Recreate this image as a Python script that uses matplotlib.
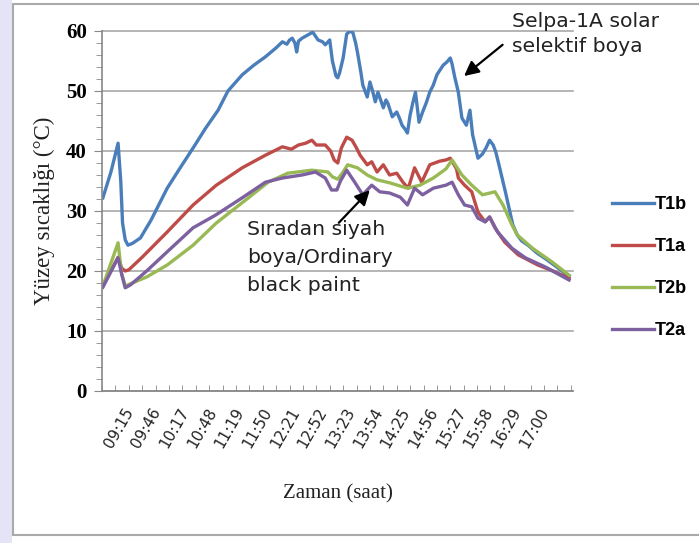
import matplotlib
matplotlib.use("Agg")
import matplotlib.pyplot as plt
from matplotlib.patches import Rectangle
from matplotlib.ticker import MultipleLocator, FixedLocator

# minutes after 08:44 and surface temperature (°C)
t1b_min = [1, 10, 18, 21, 23, 26, 29, 34, 43, 55, 73, 88, 102, 116, 130, 141, 157, 170, 183, 195,
           202, 207, 210, 213, 216, 218, 220, 224, 230, 236, 242, 247, 250, 255, 258, 262, 264, 266,
           270, 274, 278, 281, 284, 286, 290, 292, 297, 300, 303, 306, 309, 312, 315, 318, 320, 325,
           330, 333, 336, 340, 342, 345, 348, 351, 355, 359, 363, 367, 371, 375, 382, 386, 390, 392,
           395, 399, 403, 408, 412, 415, 421, 426, 430, 434, 438, 441, 444, 448, 452, 455, 460, 465,
           470, 477, 487, 497, 508, 516, 523]
t1b_val = [32.2, 36.5, 41.3, 35.0, 28.0, 25.2, 24.3, 24.6, 25.5, 28.5, 33.8, 37.3, 40.5, 43.8, 46.8,
           50.0, 52.7, 54.3, 55.7, 57.2, 58.2, 57.8, 58.5, 58.8, 58.0, 56.5, 58.3, 58.8, 59.3, 59.8,
           58.5, 58.2, 57.7, 58.5, 55.0, 52.5, 52.2, 53.0, 55.5, 59.5, 60.0, 59.7, 58.0, 56.5, 53.0,
           51.0, 49.0, 51.5, 50.0, 48.2, 49.8, 48.5, 47.2, 48.5, 48.0, 45.7, 46.5, 45.5, 44.3, 43.5,
           43.0, 46.0, 48.0, 49.8, 44.8, 46.5, 48.0, 49.8, 51.0, 52.7, 54.3, 54.8, 55.5, 54.5, 52.3,
           49.8, 45.5, 44.3, 46.8, 42.7, 38.8, 39.5, 40.5, 41.8, 41.0, 39.8, 38.0, 35.5, 33.0, 31.0,
           27.7, 26.0, 25.0, 24.3, 23.0, 22.0, 20.8, 19.9, 19.2]

t1a_min = [1, 18, 22, 26, 30, 45, 73, 102, 128, 157, 183, 202, 212, 220, 228, 235, 240, 250, 256,
           260, 264, 268, 274, 280, 285, 289, 297, 302, 308, 315, 322, 330, 337, 343, 350, 358, 367,
           378, 385, 390, 397, 399, 406, 414, 421, 429, 434, 440, 451, 466, 488, 505, 523]
t1a_val = [17.5, 22.3, 20.5, 20.0, 20.2, 22.3, 26.5, 31.0, 34.3, 37.2, 39.3, 40.7, 40.3, 41.0, 41.3,
           41.8, 41.0, 41.0, 40.0, 38.5, 38.0, 40.5, 42.3, 41.8, 40.5, 39.3, 37.7, 38.2, 36.5, 37.7,
           36.0, 36.3, 34.8, 33.8, 37.2, 34.8, 37.7, 38.3, 38.5, 38.8, 37.0, 35.5, 34.3, 33.2, 29.8,
           28.2, 29.0, 27.2, 24.8, 22.7, 21.0, 20.0, 18.8]

t2b_min = [1, 18, 22, 26, 34, 50, 73, 102, 128, 164, 186, 208, 235, 253, 258, 264, 270, 275, 286,
           297, 308, 322, 342, 356, 371, 385, 392, 403, 414, 426, 440, 449, 459, 465, 482, 504, 523]
t2b_val = [17.5, 24.7, 19.5, 17.5, 18.0, 19.0, 21.0, 24.3, 28.0, 32.2, 34.8, 36.3, 36.8, 36.5, 35.7,
           35.3, 36.5, 37.7, 37.2, 36.0, 35.2, 34.7, 33.8, 34.3, 35.5, 37.0, 38.5, 36.0, 34.3, 32.7,
           33.2, 31.0, 27.7, 26.0, 23.8, 21.5, 19.3]

t2a_min = [1, 18, 22, 26, 32, 50, 73, 102, 127, 157, 183, 202, 224, 239, 250, 257, 263, 267, 274,
           283, 292, 302, 311, 322, 334, 342, 350, 359, 371, 385, 392, 399, 406, 414, 421, 429, 434,
           443, 459, 474, 496, 523]
t2a_val = [17.3, 22.2, 19.5, 17.2, 17.7, 20.0, 23.2, 27.2, 29.3, 32.2, 34.8, 35.5, 36.0, 36.5, 35.5,
           33.5, 33.5, 35.0, 36.8, 34.8, 32.7, 34.3, 33.2, 33.0, 32.3, 31.0, 33.8, 32.7, 33.8, 34.3,
           34.8, 32.7, 31.0, 30.7, 28.8, 28.2, 29.0, 26.5, 23.8, 22.2, 20.7, 18.5]

series_names = ["T1b", "T1a", "T2b", "T2a"]
series_colors = ["#4a7ebb", "#be4b48", "#98b954", "#7d60a0"]

tick_labels = ["09:15", "09:46", "10:17", "10:48", "11:19", "11:50", "12:21", "12:52",
               "13:23", "13:54", "14:25", "14:56", "15:27", "15:58", "16:29", "17:00"]
tick_min = [31 * (i + 1) for i in range(len(tick_labels))]

W, H = 699, 543
fig = plt.figure(figsize=(W / 100, H / 100), dpi=100)
fig.patch.set_facecolor("white")

# page background strip and chart border
fig.patches.append(Rectangle((0, 0), 12 / W, 1, transform=fig.transFigure,
                             facecolor="#e4e4f6", edgecolor="none", zorder=-2))
fig.patches.append(Rectangle((13 / W, 8 / H), 1, (535 - 4) / H, transform=fig.transFigure,
                             facecolor="white", edgecolor="#aaaaaa", lw=1.5, zorder=-1))

ax = fig.add_axes([102 / W, (H - 391) / H, (573 - 102) / W, 360 / H])
ax.set_facecolor("none")

xs = [t1b_min, t1a_min, t2b_min, t2a_min]
ys = [t1b_val, t1a_val, t2b_val, t2a_val]
for x, y, name, c in zip(xs, ys, series_names, series_colors):
    ax.plot(x, y, color=c, lw=2.4, label=name, solid_joinstyle="round")

ax.set_xlim(0, 527.4)
ax.set_ylim(0, 60)
ax.set_yticks(range(0, 61, 10))
ax.yaxis.set_minor_locator(MultipleLocator(2))
ax.yaxis.grid(True, color="#a8a8a8", lw=1.2)
for gl in ax.get_ygridlines():
    gl.set_clip_on(False)
ax.set_axisbelow(True)

ax.set_xticks(tick_min)
ax.set_xticklabels(tick_labels, rotation=60, ha="right", va="center",
                   rotation_mode="anchor", fontsize=11, color="#222222")
ax.xaxis.set_minor_locator(FixedLocator(list(range(0, 528, 15))))
ax.tick_params(axis="x", which="major", length=0, pad=13)
ax.tick_params(axis="x", which="minor", direction="in", length=4, color="#888888")
ax.tick_params(axis="y", which="major", direction="out", length=6, color="#888888", pad=5)
ax.tick_params(axis="y", which="minor", direction="out", length=4, color="#888888")
for lab in ax.get_yticklabels():
    lab.set_fontfamily("Liberation Serif")
    lab.set_fontweight("bold")
    lab.set_fontsize(15)

for s in ["top", "right"]:
    ax.spines[s].set_visible(False)
for s in ["left", "bottom"]:
    ax.spines[s].set_color("#888888")
    ax.spines[s].set_linewidth(1.2)

ax.set_ylabel("Yüzey sıcaklığı (°C)", fontfamily="Liberation Serif", fontsize=16.5,
              color="#222222", labelpad=8)
ax.set_xlabel("Zaman (saat)", fontfamily="Liberation Serif", fontsize=15,
              color="#222222", labelpad=24)

ax.text(459, 59.5, "Selpa-1A solar\nselektif boya", fontsize=14.7, color="#222222",
        va="center", ha="left", linespacing=1.42)
ax.annotate("", xy=(403, 52.2), xytext=(451, 58),
            arrowprops=dict(arrowstyle="-|>", color="black", lw=1.6, mutation_scale=22))
ax.text(162, 22.3, "Sıradan siyah\nboya/Ordinary\nblack paint", fontsize=14.7, color="#222222",
        va="center", ha="left", linespacing=1.6)
ax.annotate("", xy=(302, 33.8), xytext=(263, 27.7),
            arrowprops=dict(arrowstyle="-|>", color="black", lw=1.6, mutation_scale=22))

fig.legend(loc="upper left", bbox_to_anchor=(596 / W, 1 - 180 / H), frameon=False,
           handlelength=2.3, handletextpad=0.05, labelspacing=1.38,
           prop={"family": "Liberation Sans", "weight": "bold", "size": 13})

fig.savefig("out.png", dpi=100)
